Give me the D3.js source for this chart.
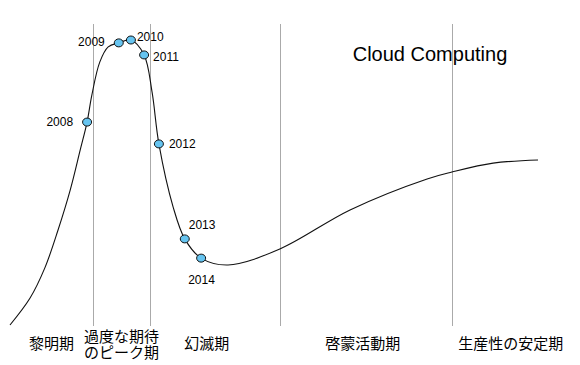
<!DOCTYPE html>
<html lang="ja">
<head>
<meta charset="UTF-8">
<script src="https://d3js.org/d3.v7.min.js"></script>
<title>Hype Cycle</title>
<style>
    body { margin: 0; background: #fff; }
    svg text { font-family: "Liberation Sans", "Noto Sans CJK JP", sans-serif; fill: #000; }
</style>
</head>
<body>
<svg id="chart" width="580" height="365"></svg>
<script>
    // time (0-100) and expectation (0-100) along the hype curve
    const curveT = [0, 3.8, 6.6, 9.1, 11.4, 13.3, 15.5, 17.0, 18.6, 26.9, 30.9, 41.3, 51.1, 64.4, 79.0, 83.7, 91.5, 100];
    const curveV = [0, 9.4, 19.9, 33.1, 47.0, 61.0, 80.1, 91.6, 96.9, 81.2, 41.1, 20.9, 26.5, 40.1, 50.9, 53.3, 56.4, 57.5];

    const years = ["2008", "2009", "2010", "2011", "2012", "2013", "2014"];
    const yearT = [14.6, 20.6, 22.9, 25.4, 28.2, 33.1, 36.2];
    const yearV = [70.7, 98.3, 99.3, 94.1, 63.1, 30.0, 23.3];

    const phaseNames = [["黎明期"], ["過度な期待", "のピーク期"], ["幻滅期"], ["啓蒙活動期"], ["生産性の安定期"]];
    const phaseBounds = [0, 15.7, 26.5, 51.1, 83.7, 106];

    const title = "Cloud Computing";

    const svg = d3.select("#chart");
    const x = d3.scaleLinear().domain([0, 100]).range([10, 538]);
    const y = d3.scaleLinear().domain([0, 100]).range([325, 38]);

    // phase separators
    svg.append("g")
        .selectAll("line")
        .data(phaseBounds.slice(1, -1))
        .join("line")
        .attr("x1", d => Math.round(x(d)) + 0.5)
        .attr("x2", d => Math.round(x(d)) + 0.5)
        .attr("y1", 24)
        .attr("y2", 326)
        .attr("stroke", "#aaa")
        .attr("stroke-width", 1);

    // curve passes through the year markers too
    let pts = curveT.map((t, i) => [t, curveV[i]])
        .concat(yearT.map((t, i) => [t, yearV[i]]));
    pts.sort((a, b) => a[0] - b[0]);

    svg.append("path")
        .attr("d", d3.line().x(d => x(d[0])).y(d => y(d[1])).curve(d3.curveCatmullRom.alpha(0.5))(pts))
        .attr("fill", "none")
        .attr("stroke", "#111")
        .attr("stroke-width", 1.1);

    svg.append("g")
        .selectAll("ellipse")
        .data(years)
        .join("ellipse")
        .attr("cx", (d, i) => x(yearT[i]))
        .attr("cy", (d, i) => y(yearV[i]))
        .attr("rx", 4.5)
        .attr("ry", 4)
        .attr("fill", "#66c4f0")
        .attr("stroke", "#111")
        .attr("stroke-width", 1);

    // label offsets [dx, dy, anchor]
    const lblOff = [[-14, 4, "end"], [-14, 3, "end"], [6, 1, "start"], [9, 6, "start"], [10, 4, "start"], [4, -10, "start"], [-13, 26, "start"]];
    svg.append("g")
        .selectAll("text")
        .data(years)
        .join("text")
        .attr("x", (d, i) => x(yearT[i]) + lblOff[i][0])
        .attr("y", (d, i) => y(yearV[i]) + lblOff[i][1])
        .attr("text-anchor", (d, i) => lblOff[i][2])
        .attr("font-size", 12)
        .text(d => d);

    svg.append("text")
        .attr("x", 430)
        .attr("y", 61)
        .attr("text-anchor", "middle")
        .attr("font-size", 20)
        .text(title);

    const pl = svg.append("g")
        .selectAll("text")
        .data(phaseNames)
        .join("text")
        .attr("x", (d, i) => {
            let m = x((phaseBounds[i] + phaseBounds[i + 1]) / 2);
            return i === 2 ? m - 8 : (i === 3 ? m - 3 : m);
        })
        .attr("y", d => d.length > 1 ? 342 : 349)
        .attr("text-anchor", "middle")
        .attr("font-size", 15);
    pl.selectAll("tspan")
        .data(d => d)
        .join("tspan")
        .attr("x", function () { return this.parentNode.getAttribute("x"); })
        .attr("dy", (d, i) => i ? 15.5 : 0)
        .text(d => d);
</script>
</body>
</html>
